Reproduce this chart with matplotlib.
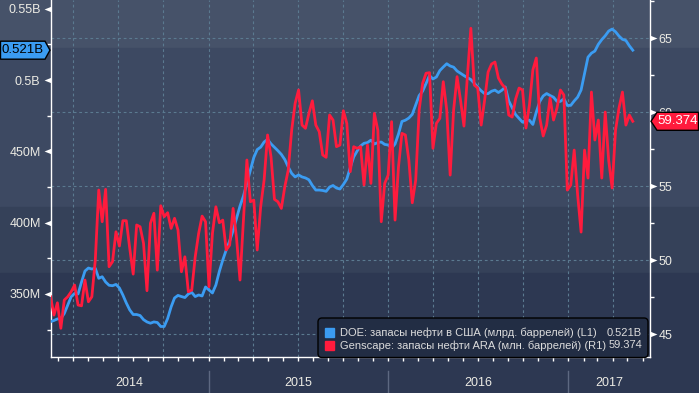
import numpy as np
import pandas as pd
import matplotlib
matplotlib.use("Agg")
import matplotlib.pyplot as plt
import matplotlib.dates as mdates
import matplotlib.transforms as mtransforms
from matplotlib.path import Path
from matplotlib.patches import Rectangle, Polygon, FancyBboxPatch
from matplotlib.ticker import FuncFormatter

plt.rcParams['font.family'] = ['Liberation Sans', 'DejaVu Sans']

# weekly data, Friday 2014-02-14 .. 2017-05-12
start_date = '2014-02-14'

# DOE US crude stocks, million barrels (left axis)
doe_mbbl = [330.6, 331.4, 332.5, 332.8, 336.3, 342.3, 348.1, 350.4, 350.0, 358.4,
            366.1, 368.2, 367.5, 368.0, 361.0, 362.1, 358.4, 356.1, 355.8, 356.7,
            354.2, 349.3, 343.7, 338.8, 335.6, 335.6, 334.9, 332.0, 330.4, 329.5,
            330.4, 330.0, 327.2, 327.2, 332.8, 340.9, 347.2, 349.0, 348.2, 347.5,
            350.0, 351.1, 348.2, 349.3, 348.6, 354.9, 352.8, 350.7, 356.3, 365.8,
            373.8, 380.9, 387.2, 394.5, 403.0, 411.7, 418.7, 427.8, 437.0, 445.7,
            451.3, 453.0, 456.6, 458.4, 455.3, 452.9, 450.5, 447.9, 444.3, 439.1,
            434.6, 432.1, 433.5, 432.1, 431.4, 430.1, 426.1, 422.9, 422.9, 422.6,
            422.0, 425.0, 426.1, 424.3, 423.6, 426.8, 430.6, 438.7, 446.1, 450.3,
            453.8, 455.7, 456.2, 457.9, 455.2, 456.2, 456.6, 454.9, 454.5, 452.2,
            455.2, 462.2, 471.0, 471.9, 473.4, 476.0, 482.5, 489.2, 492.2, 497.6,
            503.2, 500.8, 502.2, 506.7, 509.2, 511.5, 509.9, 509.1, 506.4, 504.8,
            503.2, 501.7, 500.4, 497.8, 495.0, 492.5, 490.5, 490.5, 492.2, 493.0,
            491.3, 492.9, 495.2, 485.4, 480.6, 475.8, 473.2, 470.5, 472.0, 471.9,
            468.9, 477.6, 485.0, 488.9, 490.6, 489.2, 488.0, 485.1, 485.1, 486.9,
            482.2, 482.3, 485.4, 488.1, 493.1, 504.6, 516.1, 518.9, 520.4, 525.1,
            528.4, 531.1, 534.4, 535.8, 533.9, 530.9, 528.6, 527.8, 524.1, 521.0]

# Genscape ARA crude stocks, million barrels (right axis)
ara_mbbl = [47.52, 46.28, 47.11, 45.39, 47.30, 47.52, 47.86, 48.31, 46.96, 46.91,
            48.65, 47.18, 47.52, 50.00, 54.73, 52.59, 54.78, 49.55, 49.89, 51.91,
            50.95, 52.66, 52.66, 50.79, 49.05, 52.37, 52.25, 51.13, 47.93, 52.48,
            53.16, 49.32, 53.67, 52.93, 53.20, 52.14, 52.82, 52.03, 49.21, 50.22,
            47.86, 47.97, 50.22, 51.80, 52.97, 52.59, 48.20, 51.80, 53.60, 52.52,
            52.70, 50.68, 51.01, 53.49, 51.47, 48.65, 52.70, 56.76, 53.94, 54.05,
            50.68, 53.60, 55.41, 58.45, 56.98, 54.10, 53.94, 53.49, 54.95, 56.08,
            58.78, 60.59, 61.49, 59.12, 58.90, 59.91, 60.76, 59.12, 58.67, 57.10,
            56.94, 59.80, 59.46, 57.66, 57.77, 60.09, 59.24, 55.97, 57.66, 57.55,
            57.66, 55.07, 57.77, 55.18, 59.91, 58.78, 52.59, 55.18, 55.74, 59.35,
            52.70, 56.30, 58.56, 58.45, 56.76, 53.87, 55.41, 60.14, 61.94, 62.62,
            62.66, 57.55, 59.24, 59.57, 62.05, 60.14, 55.74, 60.14, 62.39, 60.81,
            59.05, 62.43, 65.66, 61.82, 61.62, 59.12, 60.81, 62.70, 63.24, 63.38,
            62.30, 61.89, 61.62, 59.80, 59.66, 60.88, 61.62, 61.49, 58.92, 60.47,
            62.84, 63.65, 59.60, 58.38, 59.12, 60.95, 59.46, 60.27, 61.49, 61.15,
            54.73, 55.07, 57.43, 54.39, 51.89, 57.43, 55.54, 61.35, 58.11, 59.46,
            55.54, 60.00, 56.76, 54.87, 58.78, 60.27, 61.35, 59.12, 59.80, 59.374]

doe_label = "DOE: запасы нефти в США (млрд. баррелей) (L1)"
ara_label = "Genscape: запасы нефти ARA (млн. баррелей) (R1)"
years = [2014, 2015, 2016, 2017]
left_ticks = [350, 400, 450, 500, 550]
right_ticks = [45, 50, 55, 60, 65]

BLUE = '#3b9cf2'
RED = '#ff1b3d'
TXT = '#ecebe4'
GRID = '#5b7a90'

W, H = 699, 393
fig = plt.figure(figsize=(W / 100, H / 100), dpi=100)
fig.patch.set_facecolor('#2d3852')

# background bands (pixel rows from top)
for top, bot, col in [(0, 48, '#465269'), (48, 207, '#3d4962'),
                      (207, 273, '#354159'), (273, H, '#2d3852')]:
    fig.add_artist(Rectangle((0, 1 - bot / H), 1, (bot - top) / H,
                             transform=fig.transFigure, color=col, zorder=-5))

ax = fig.add_axes([51 / W, 1 - 357 / H, (650 - 51) / W, 357 / H])
ax.set_facecolor('none')
ax2 = ax.twinx()

dates = pd.date_range(start_date, periods=len(doe_mbbl), freq='W-FRI')
ax.plot(dates, doe_mbbl, color=BLUE, lw=2, zorder=3)
ax2.plot(dates, ara_mbbl, color=RED, lw=2, zorder=3)

xlim = (pd.Timestamp('2014-02-15'), pd.Timestamp('2017-06-16'))
ax.set_xlim(*xlim)
ax.set_ylim(305.8, 556.2)
ax2.set_ylim(43.45, 67.57)

# x axis: quarterly grid, monthly ticks
ax.xaxis.set_major_locator(mdates.MonthLocator(bymonth=[1, 4, 7, 10]))
ax.xaxis.set_minor_locator(mdates.MonthLocator())
ax.tick_params(axis='x', which='both', length=3, width=1, color='white',
               labelbottom=False)
ax.set_axisbelow(True)
ax.grid(axis='x', which='major', color=GRID, ls=(0, (2.5, 2.5)), lw=0.8)

# horizontal grid follows right axis
hg = mtransforms.blended_transform_factory(ax.transAxes, ax2.transData)
for v in right_ticks:
    ax.plot([0, 1], [v, v], transform=hg, color=GRID, ls=(0, (2.5, 2.5)),
            lw=0.8, zorder=1)

def fmt_left(v, pos):
    return f"{v / 1000:g}B" if v >= 500 else f"{v:g}M"

ax.set_yticks(left_ticks)
ax.set_yticks([325, 375, 425, 475, 525], minor=True)
ax.yaxis.set_major_formatter(FuncFormatter(fmt_left))
ax.tick_params(axis='y', which='major', length=0, pad=7.5, labelsize=9,
               labelcolor=TXT)
ax.tick_params(axis='y', which='minor', length=3, width=1, color='white')

ax2.set_yticks(right_ticks)
ax2.set_yticks([47.5, 52.5, 57.5, 62.5, 67.5], minor=True)
ax2.tick_params(axis='y', which='major', length=0, pad=6, labelsize=9,
                labelcolor=TXT)
ax2.tick_params(axis='y', which='minor', length=3, width=1, color='white')

for a in (ax, ax2):
    a.spines['top'].set_visible(False)
    for s in a.spines.values():
        s.set_color('white')
        s.set_linewidth(1)
ax.spines['right'].set_visible(False)
ax2.spines['left'].set_visible(False)
ax2.spines['bottom'].set_visible(False)

# triangle markers for major ticks
tri_left = Path([(-1, 0), (0, 0.4), (0, -0.4), (-1, 0)])
tri_right = Path([(1, 0), (0, 0.4), (0, -0.4), (1, 0)])
lt = mtransforms.blended_transform_factory(ax.transAxes, ax.transData)
rt = mtransforms.blended_transform_factory(ax2.transAxes, ax2.transData)
ax.plot([0] * len(left_ticks), left_ticks, transform=lt, ls='none',
        marker=tri_left, ms=10, mew=0, color='white', clip_on=False, zorder=4)
ax2.plot([1] * len(right_ticks), right_ticks, transform=rt, ls='none',
         marker=tri_right, ms=10, mew=0, color='white', clip_on=False, zorder=4)

# year labels and separators below the axis
fx = mtransforms.blended_transform_factory(ax.transData, fig.transFigure)
x0, x1 = mdates.date2num(xlim[0]), mdates.date2num(xlim[1])
for y in years:
    a = max(mdates.date2num(pd.Timestamp(f'{y}-01-01')), x0)
    b = min(mdates.date2num(pd.Timestamp(f'{y + 1}-01-01')), x1)
    ax.text((a + b) / 2, 1 - 383 / H, str(y), transform=fx, ha='center',
            va='center', fontsize=9, color=TXT)
    if y > years[0]:
        d = mdates.date2num(pd.Timestamp(f'{y}-01-01'))
        ax.plot([d, d], [0, 1 - 371 / H], transform=fx, color='#5d6881',
                lw=1, clip_on=False)

# last value boxes
ident = mtransforms.IdentityTransform()
bx, by = lt.transform((0, doe_mbbl[-1]))
fig.add_artist(Polygon([(bx - 1, by), (bx - 6, by + 9), (0.5, by + 9),
                        (0.5, by - 9), (bx - 6, by - 9)], closed=True,
                       transform=ident, fc=BLUE, ec='black', lw=1, zorder=10))
fig.text((bx - 6) / 2, by, f"{doe_mbbl[-1] / 1000:.3f}B", transform=ident,
         ha='center', va='center', fontsize=9.5, color='black', zorder=11)

rx, ry = rt.transform((1, ara_mbbl[-1]))
fig.add_artist(Polygon([(rx + 1, ry), (rx + 7, ry + 9), (W - 0.5, ry + 9),
                        (W - 0.5, ry - 9), (rx + 7, ry - 9)], closed=True,
                       transform=ident, fc=RED, ec='black', lw=1, zorder=10))
fig.text((rx + 7 + W) / 2, ry, f"{ara_mbbl[-1]:.3f}", transform=ident,
         ha='center', va='center', fontsize=9.5, color='white', zorder=11)

# legend box
fig.add_artist(FancyBboxPatch((318, H - 357.5), 330, 39.5,
                              boxstyle='round,pad=0,rounding_size=4',
                              transform=ident, fc='#222d44', ec='black',
                              lw=1, zorder=10))
rows = [(doe_label, f"{doe_mbbl[-1] / 1000:.3f}B", BLUE, 332.5),
        (ara_label, f"{ara_mbbl[-1]:.3f}", RED, 345.5)]
for label, val, col, ytop in rows:
    yc = H - ytop
    fig.add_artist(Rectangle((325, yc - 4.5), 9, 9, transform=ident,
                             color=col, zorder=11))
    fig.text(340, yc, label, transform=ident, ha='left', va='center',
             fontsize=8, color='#dcdcdc', zorder=11)
    fig.text(642, yc, val, transform=ident, ha='right', va='center',
             fontsize=8, color='#dcdcdc', zorder=11)

fig.savefig('out.png', dpi=100, facecolor=fig.get_facecolor())
